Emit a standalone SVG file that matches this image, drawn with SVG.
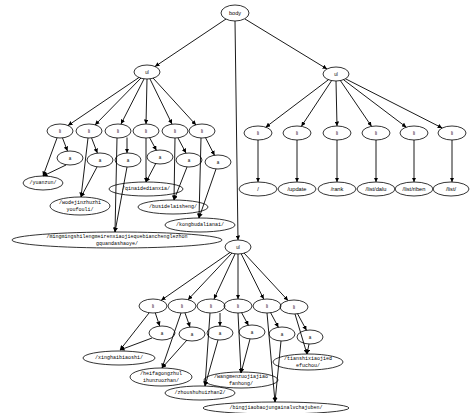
<svg xmlns="http://www.w3.org/2000/svg" width="470" height="413" viewBox="0 0 470 413">
<style>
ellipse{fill:none;stroke:#000;stroke-width:0.8}
text{fill:#000;text-anchor:middle;dominant-baseline:central}
.s{font-family:"Liberation Sans",Arial,sans-serif;font-size:4.5px}
.r{font-family:"Liberation Sans",Arial,sans-serif;font-size:5.7px}
.m{font-family:"Liberation Mono","DejaVu Sans Mono",monospace;font-size:5px}
#edges line{stroke:#000;stroke-width:0.9;marker-end:url(#ah)}
</style>
<defs>
<marker id="ah" viewBox="0 0 6 6" refX="6" refY="3" markerWidth="4.5" markerHeight="4.5" markerUnits="userSpaceOnUse" orient="auto">
<path d="M0,0 L6,3 L0,6 z" fill="#000"/>
</marker>
</defs>
<rect width="470" height="413" fill="#fff"/>
<g id="edges">
<line x1="226" y1="19" x2="155" y2="66.5"/>
<line x1="245" y1="19" x2="327" y2="69"/>
<line x1="235" y1="21" x2="238" y2="240"/>
<line x1="139" y1="77.5" x2="68" y2="125.5"/>
<line x1="141" y1="78" x2="95" y2="125"/>
<line x1="144" y1="79" x2="121" y2="124"/>
<line x1="147" y1="79" x2="146" y2="124"/>
<line x1="150" y1="79" x2="172" y2="124"/>
<line x1="153" y1="78" x2="196" y2="125"/>
<line x1="62.5" y1="138" x2="67.5" y2="151"/>
<line x1="91.6" y1="138" x2="97.4" y2="153"/>
<line x1="127" y1="137.5" x2="127" y2="153"/>
<line x1="149.6" y1="137.7" x2="156.4" y2="150.3"/>
<line x1="178" y1="138" x2="186" y2="153"/>
<line x1="205.5" y1="137.7" x2="214.5" y2="155.3"/>
<line x1="57" y1="138" x2="43" y2="176"/>
<line x1="66" y1="165" x2="43" y2="176"/>
<line x1="88" y1="138" x2="81" y2="197"/>
<line x1="97" y1="167" x2="81" y2="197"/>
<line x1="117" y1="138" x2="115" y2="232"/>
<line x1="127" y1="167" x2="115" y2="232"/>
<line x1="146" y1="138" x2="146" y2="182"/>
<line x1="156" y1="163" x2="146" y2="182"/>
<line x1="175" y1="138" x2="174" y2="200"/>
<line x1="187" y1="167" x2="174" y2="200"/>
<line x1="201" y1="138" x2="199" y2="218"/>
<line x1="216" y1="169" x2="199" y2="218"/>
<line x1="328.5" y1="79.7" x2="265.7" y2="127.2"/>
<line x1="331.6" y1="80.6" x2="301.4" y2="126.3"/>
<line x1="336" y1="81" x2="337" y2="126"/>
<line x1="340.4" y1="80.6" x2="371.5" y2="126.3"/>
<line x1="343.5" y1="79.7" x2="406.3" y2="127.2"/>
<line x1="345.5" y1="78.8" x2="442.2" y2="128"/>
<line x1="258" y1="140" x2="258" y2="182"/>
<line x1="297" y1="140" x2="297" y2="182"/>
<line x1="337" y1="140" x2="337" y2="182"/>
<line x1="376" y1="140" x2="376" y2="182"/>
<line x1="414" y1="140" x2="414" y2="182"/>
<line x1="452" y1="140" x2="452" y2="182"/>
<line x1="230" y1="252.5" x2="161.2" y2="300.3"/>
<line x1="232" y1="253" x2="188" y2="299.7"/>
<line x1="235" y1="254" x2="214" y2="299"/>
<line x1="238" y1="254" x2="238" y2="299"/>
<line x1="241.3" y1="254" x2="263.7" y2="299"/>
<line x1="244" y1="253" x2="288" y2="300.5"/>
<line x1="155.3" y1="313" x2="159.7" y2="326"/>
<line x1="185" y1="313" x2="190" y2="327"/>
<line x1="220" y1="313" x2="220" y2="326"/>
<line x1="241.6" y1="312.7" x2="248.4" y2="325.3"/>
<line x1="270.6" y1="312.7" x2="278.4" y2="327.3"/>
<line x1="297.5" y1="313.7" x2="306.5" y2="330.3"/>
<line x1="149" y1="313" x2="120" y2="350"/>
<line x1="152" y1="338" x2="120" y2="350"/>
<line x1="181" y1="313" x2="162" y2="368"/>
<line x1="187" y1="340" x2="162" y2="368"/>
<line x1="210" y1="313" x2="205" y2="386"/>
<line x1="218" y1="340" x2="205" y2="386"/>
<line x1="238" y1="313" x2="241" y2="373"/>
<line x1="250" y1="339" x2="241" y2="373"/>
<line x1="267" y1="313" x2="275" y2="402"/>
<line x1="281" y1="341" x2="275" y2="402"/>
<line x1="295" y1="314" x2="307" y2="354"/>
<line x1="309" y1="344" x2="307" y2="354"/>
</g>
<g id="body"><ellipse cx="235" cy="13" rx="14" ry="8"/><text class="s" x="235" y="13" style="font-size:5.5px">body</text></g>
<g id="ul1"><ellipse cx="147" cy="72" rx="13" ry="7"/><text class="s" x="147" y="72">ul</text></g>
<g id="ul2"><ellipse cx="336" cy="74" rx="13" ry="7"/><text class="s" x="336" y="74">ul</text></g>
<g id="ul3"><ellipse cx="238" cy="247" rx="13" ry="7"/><text class="s" x="238" y="247">ul</text></g>
<g id="l1li1"><ellipse cx="60" cy="131" rx="13" ry="7"/><text class="s" x="60" y="131">li</text></g>
<g id="l1li2"><ellipse cx="89" cy="131" rx="13" ry="7"/><text class="s" x="89" y="131">li</text></g>
<g id="l1li3"><ellipse cx="118" cy="131" rx="13" ry="7"/><text class="s" x="118" y="131">li</text></g>
<g id="l1li4"><ellipse cx="146" cy="131" rx="13" ry="7"/><text class="s" x="146" y="131">li</text></g>
<g id="l1li5"><ellipse cx="175" cy="131" rx="13" ry="7"/><text class="s" x="175" y="131">li</text></g>
<g id="l1li6"><ellipse cx="202" cy="131" rx="13" ry="7"/><text class="s" x="202" y="131">li</text></g>
<g id="l1a1"><ellipse cx="70" cy="158" rx="13" ry="7"/><text class="s" x="70" y="158">a</text></g>
<g id="l1a2"><ellipse cx="100" cy="160" rx="13" ry="7"/><text class="s" x="100" y="160">a</text></g>
<g id="l1a3"><ellipse cx="128" cy="160" rx="13" ry="7"/><text class="s" x="128" y="160">a</text></g>
<g id="l1a4"><ellipse cx="160" cy="157" rx="13" ry="7"/><text class="s" x="160" y="157">a</text></g>
<g id="l1a5"><ellipse cx="189" cy="160" rx="13" ry="7"/><text class="s" x="189" y="160">a</text></g>
<g id="l1a6"><ellipse cx="218" cy="162" rx="13" ry="7"/><text class="s" x="218" y="162">a</text></g>
<g id="yuanzun"><ellipse cx="43" cy="183" rx="20" ry="7"/><text class="m" x="43" y="183">/yuanzun/</text></g>
<g id="wodejinzhuzhi"><ellipse cx="80" cy="206" rx="30" ry="9"/><text class="m" x="80" y="202.5">/wodejinzhuzhi</text><text class="m" x="80" y="209.5">youfouli/</text></g>
<g id="qinaidedianxia"><ellipse cx="146" cy="189" rx="37" ry="7"/><text class="m" x="146" y="189">/qinaidedianxia/</text></g>
<g id="busidelaisheng"><ellipse cx="173" cy="207" rx="35" ry="7"/><text class="m" x="173" y="207">/busidelaisheng/</text></g>
<g id="kongbudalianai"><ellipse cx="200" cy="225" rx="35" ry="7"/><text class="m" x="200" y="225">/kongbudalianai/</text></g>
<g id="mingming"><ellipse cx="117" cy="240" rx="105" ry="8"/><text class="m" x="117" y="236.5">/mingmingshilengmeirenxiaojiequebianchenglezhon</text><text class="m" x="117" y="244">gquandashaoye/</text></g>
<g id="r1li1"><ellipse cx="258" cy="133" rx="14" ry="7"/><text class="s" x="258" y="133">li</text></g>
<g id="r1li2"><ellipse cx="297" cy="133" rx="14" ry="7"/><text class="s" x="297" y="133">li</text></g>
<g id="r1li3"><ellipse cx="337" cy="133" rx="14" ry="7"/><text class="s" x="337" y="133">li</text></g>
<g id="r1li4"><ellipse cx="376" cy="133" rx="14" ry="7"/><text class="s" x="376" y="133">li</text></g>
<g id="r1li5"><ellipse cx="414" cy="133" rx="14" ry="7"/><text class="s" x="414" y="133">li</text></g>
<g id="r1li6"><ellipse cx="452" cy="133" rx="14" ry="7"/><text class="s" x="452" y="133">li</text></g>
<g id="root"><ellipse cx="258" cy="189" rx="19" ry="7"/><text class="r" x="258" y="189">/</text></g>
<g id="update"><ellipse cx="297" cy="189" rx="19" ry="7"/><text class="r" x="297" y="189">/update</text></g>
<g id="rank"><ellipse cx="337" cy="189" rx="19" ry="7"/><text class="r" x="337" y="189">/rank</text></g>
<g id="dalu"><ellipse cx="376" cy="189" rx="19" ry="7"/><text class="r" x="376" y="189">/list/dalu</text></g>
<g id="riben"><ellipse cx="414" cy="189" rx="19" ry="7"/><text class="r" x="414" y="189">/list/riben</text></g>
<g id="list"><ellipse cx="451" cy="189" rx="18" ry="7"/><text class="r" x="451" y="189">/list/</text></g>
<g id="b1li1"><ellipse cx="153" cy="306" rx="14" ry="7"/><text class="s" x="153" y="306">li</text></g>
<g id="b1li2"><ellipse cx="182" cy="306" rx="14" ry="7"/><text class="s" x="182" y="306">li</text></g>
<g id="b1li3"><ellipse cx="211" cy="306" rx="14" ry="7"/><text class="s" x="211" y="306">li</text></g>
<g id="b1li4"><ellipse cx="238" cy="306" rx="14" ry="7"/><text class="s" x="238" y="306">li</text></g>
<g id="b1li5"><ellipse cx="267" cy="306" rx="14" ry="7"/><text class="s" x="267" y="306">li</text></g>
<g id="b1li6"><ellipse cx="294" cy="307" rx="14" ry="7"/><text class="s" x="294" y="307">li</text></g>
<g id="b1a1"><ellipse cx="162" cy="333" rx="13" ry="7"/><text class="s" x="162" y="333">a</text></g>
<g id="b1a2"><ellipse cx="192" cy="334" rx="13" ry="7"/><text class="s" x="192" y="334">a</text></g>
<g id="b1a3"><ellipse cx="220" cy="333" rx="13" ry="7"/><text class="s" x="220" y="333">a</text></g>
<g id="b1a4"><ellipse cx="252" cy="332" rx="13" ry="7"/><text class="s" x="252" y="332">a</text></g>
<g id="b1a5"><ellipse cx="282" cy="334" rx="13" ry="7"/><text class="s" x="282" y="334">a</text></g>
<g id="b1a6"><ellipse cx="310" cy="337" rx="13" ry="7"/><text class="s" x="310" y="337">a</text></g>
<g id="xinghai"><ellipse cx="119" cy="358" rx="36" ry="7"/><text class="m" x="119" y="358">/xinghaibiaoshi/</text></g>
<g id="heifa"><ellipse cx="161" cy="377" rx="31" ry="9"/><text class="m" x="161" y="373.5">/heifagongzhul</text><text class="m" x="161" y="380.5">ihunzuozhan/</text></g>
<g id="zhoushu"><ellipse cx="200" cy="393" rx="35" ry="7"/><text class="m" x="200" y="393">/zhoushuhuizhan2/</text></g>
<g id="wangmen"><ellipse cx="241" cy="380" rx="37" ry="8"/><text class="m" x="241" y="376.5">/wangmenzuojiajiao</text><text class="m" x="241" y="383.5">fanhong/</text></g>
<g id="tianshi"><ellipse cx="308" cy="362" rx="35" ry="8"/><text class="m" x="308" y="358.5">/tianshixiaojied</text><text class="m" x="308" y="365.5">efuchou/</text></g>
<g id="bingjiao"><ellipse cx="276" cy="408" rx="73" ry="6"/><text class="m" x="276" y="408">/bingjiaobaojungainalvchajuben/</text></g>
</svg>
